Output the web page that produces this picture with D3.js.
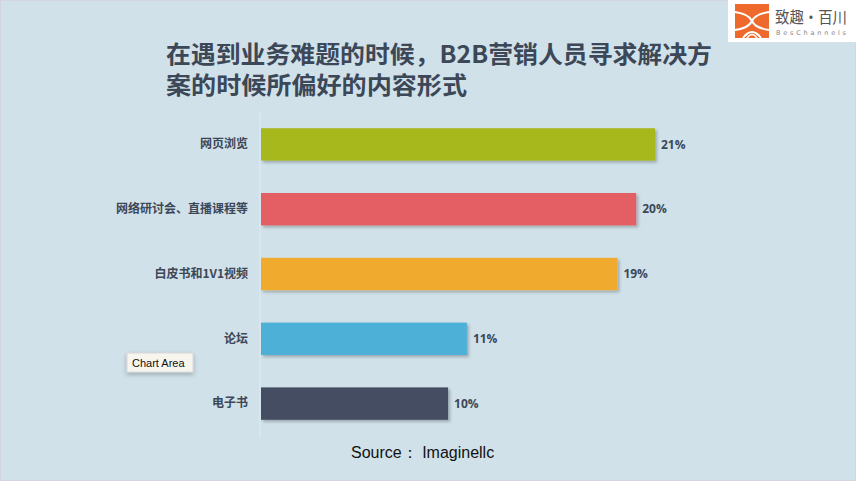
<!DOCTYPE html>
<html><head><meta charset="utf-8">
<script src="https://cdn.jsdelivr.net/npm/d3@7/dist/d3.min.js"></script>
<style>
html,body{margin:0;padding:0;background:#d0e1e9;}
svg{display:block;}
</style></head>
<body>
<svg id="chart" width="856" height="481"></svg>
<script>
const categories = ["网页浏览", "网络研讨会、直播课程等", "白皮书和1V1视频", "论坛", "电子书"];
const values = [21, 20, 19, 11, 10];
const colors = ["#a6b81f", "#e35f63", "#f0ab2e", "#4eb0d6", "#454e62"];
const titleLines = ["在遇到业务难题的时候，B2B营销人员寻求解决方", "案的时候所偏好的内容形式"];
const sourceText = "Source：  Imaginellc";

const svg = d3.select("#chart");
const W = 856, H = 481;
const cjk = "'Noto Sans CJK SC','Noto Sans',sans-serif";

svg.append("rect").attr("width", W).attr("height", H).attr("fill", "#d0e1e9");
svg.append("rect").attr("x", 0.5).attr("y", 0.5).attr("width", W - 1).attr("height", H - 1)
  .attr("fill", "none").attr("stroke", "#d3d6df").attr("stroke-width", 1);

const defs = svg.append("defs");
const f = defs.append("filter").attr("id", "sh").attr("x", "-5%").attr("y", "-20%").attr("width", "115%").attr("height", "160%");
f.append("feDropShadow").attr("dx", 2).attr("dy", 2).attr("stdDeviation", 1.5).attr("flood-color", "#000").attr("flood-opacity", 0.25);

// title
const tg = svg.append("g");
tg.append("text").attr("x", 166).attr("y", 63)
  .attr("font-family", cjk).attr("font-weight", 700).attr("font-size", 24)
  .attr("textLength", 546).attr("lengthAdjust", "spacingAndGlyphs")
  .attr("fill", "#3c4757").text(titleLines[0]);
tg.append("text").attr("x", 166).attr("y", 94)
  .attr("font-family", cjk).attr("font-weight", 700).attr("font-size", 24)
  .attr("textLength", 301).attr("lengthAdjust", "spacingAndGlyphs")
  .attr("fill", "#3c4757").text(titleLines[1]);

// scales
const x = d3.scaleLinear().domain([0, 21]).range([260, 655]);
const y = d3.scaleBand().domain(categories).range([112, 436]).paddingInner(0.5).paddingOuter(0.25);

svg.append("line").attr("x1", x(0)).attr("x2", x(0)).attr("y1", 112).attr("y2", 436)
  .attr("stroke", "#e2ecf1").attr("stroke-width", 1);

svg.append("g").selectAll("rect").data(categories).join("rect")
  .attr("x", x(0) + 1).attr("y", d => y(d))
  .attr("width", (d, i) => x(values[i]) - x(0) - 1)
  .attr("height", y.bandwidth())
  .attr("fill", (d, i) => colors[i])
  .attr("filter", "url(#sh)");

const yAxis = d3.axisLeft(y).tickSize(0).tickPadding(12);
const ga = svg.append("g").attr("transform", `translate(${x(0)},0)`).call(yAxis);
ga.select(".domain").remove();
ga.selectAll("text").attr("font-family", cjk).attr("font-weight", 700)
  .attr("font-size", 12).attr("fill", "#3c4757");

svg.append("g").selectAll("text").data(categories).join("text")
  .attr("x", (d, i) => x(values[i]) + 6)
  .attr("y", d => y(d) + y.bandwidth() / 2)
  .attr("dy", "0.35em")
  .attr("font-family", "'Open Sans','DejaVu Sans',sans-serif").attr("font-weight", 700)
  .attr("font-size", 12).attr("fill", "#3c4757")
  .text((d, i) => values[i] + "%");

svg.append("text").attr("x", 351).attr("y", 458)
  .attr("font-family", "'Liberation Sans',Arial,sans-serif").attr("font-size", 16)
  .attr("fill", "#111").text(sourceText);

const tt = svg.append("g").attr("transform", "translate(127,353)");
const tf = defs.append("filter").attr("id", "tsh").attr("x", "-20%").attr("y", "-30%").attr("width", "140%").attr("height", "190%");
tf.append("feDropShadow").attr("dx", 0).attr("dy", 2).attr("stdDeviation", 2).attr("flood-color", "#000").attr("flood-opacity", 0.25);
tt.append("rect").attr("width", 66).attr("height", 19).attr("fill", "#f7f5ee").attr("stroke", "#d8d8d8").attr("filter", "url(#tsh)");
tt.append("text").attr("x", 5).attr("y", 14).attr("font-family", "'Liberation Sans',Arial,sans-serif")
  .attr("font-size", 11).attr("fill", "#111").text("Chart Area");

// logo
const lg = svg.append("g").attr("transform", "translate(728,0)");
lg.append("rect").attr("width", 128).attr("height", 42).attr("fill", "#ffffff");
const ic = lg.append("g").attr("transform", "translate(7,4)");
ic.append("rect").attr("width", 34).attr("height", 34).attr("fill", "#ee6a2c");
ic.append("path").attr("d", "M0,8 Q14,10 17,17 Q14,24 0,26").attr("fill", "none").attr("stroke", "#fff").attr("stroke-width", 2);
ic.append("path").attr("d", "M34,8 Q20,10 17,17 Q20,24 34,26").attr("fill", "none").attr("stroke", "#fff").attr("stroke-width", 2);
ic.append("path").attr("d", "M8,34 Q17,22 26,34").attr("fill", "none").attr("stroke", "#fff").attr("stroke-width", 2);
ic.append("path").attr("d", "M12,34 Q17,27 22,34").attr("fill", "none").attr("stroke", "#fff").attr("stroke-width", 1.5);
lg.append("text").attr("x", 47).attr("y", 23).attr("font-family", cjk).attr("font-size", 16)
  .attr("textLength", 72).attr("lengthAdjust", "spacingAndGlyphs")
  .attr("fill", "#555").text("致趣·百川");
lg.append("text").attr("x", 48).attr("y", 35).attr("font-family", "'DejaVu Sans',sans-serif").attr("font-size", 6.5)
  .attr("textLength", 70).attr("lengthAdjust", "spacing")
  .attr("fill", "#888").text("BesChannels");
</script>
</body></html>
